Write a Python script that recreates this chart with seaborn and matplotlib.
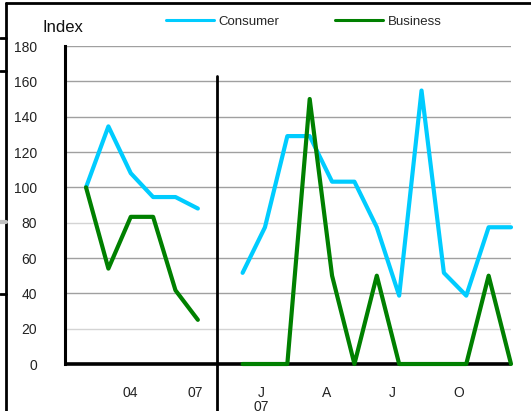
import numpy as np
import pandas as pd
import matplotlib
matplotlib.use("Agg")
import matplotlib.pyplot as plt
import matplotlib.transforms as mtransforms
from matplotlib.lines import Line2D
import seaborn as sns

# Annual index (2002 = 100) followed by monthly index Dec-06 .. Dec-07
years = ["02", "03", "04", "05", "06", "07"]
consumer_annual = [100, 134.5, 108, 94.5, 94.5, 88]
business_annual = [100, 54, 83.3, 83.3, 41.7, 25]

months = ["D", "J", "F", "M", "A", "M", "J", "J", "A", "S", "O", "N", "D"]
consumer_monthly = [51.6, 77.4, 129, 129, 103.2, 103.2, 77.4, 38.7, 154.8, 51.6, 38.7, 77.4, 77.4]
business_monthly = [0, 0, 0, 150, 50, 0, 50, 0, 0, 0, 0, 50, 0]

series_names = ["Consumer", "Business"]
colors = {"Consumer": "#00CCFF", "Business": "#008000"}

# Axis labels shown under the tick marks
tick_text = {2: "04", 5: "07", 8: "J\n07", 11: "A", 14: "J", 17: "O"}

# Positions: annual points, one empty slot for the divider, then monthly points
x_annual = np.arange(len(years))
x_monthly = np.arange(len(months)) + len(years) + 1

rows = []
for name, ann, mon in [("Consumer", consumer_annual, consumer_monthly),
                       ("Business", business_annual, business_monthly)]:
    for x, v in zip(x_annual, ann):
        rows.append({"x": x, "value": v, "series": name, "segment": "annual"})
    for x, v in zip(x_monthly, mon):
        rows.append({"x": x, "value": v, "series": name, "segment": "monthly"})
df = pd.DataFrame(rows)

sns.set_style("white")
plt.rcParams["font.family"] = ["Liberation Sans", "DejaVu Sans"]

fig = plt.figure(figsize=(5.31, 4.11), dpi=100)
ax = fig.add_axes([65 / 531, 1 - 364 / 411, (511 - 65) / 531, (364 - 46) / 411])

sns.lineplot(data=df, x="x", y="value", hue="series", units="segment",
             estimator=None, palette=colors, hue_order=series_names,
             linewidth=3.0, legend=False, ax=ax)
for ln in ax.lines:
    ln.set_solid_joinstyle("round")
    ln.set_solid_capstyle("round")
    ln.set_zorder(4)
    ln.set_clip_on(False)

n_slots = len(years) + 1 + len(months)
ax.set_xlim(-0.94, n_slots - 1)
ax.set_ylim(0, 180)

# tick marks sit slightly tighter than the data slots
tick_step = 0.979
ticks = np.arange(n_slots) * tick_step
ax.set_xticks(ticks)
ax.set_xticklabels([tick_text.get(i, "") for i in range(n_slots)], fontsize=10,
                   linespacing=1.0)
ax.set_yticks(np.arange(0, 181, 20))
ax.set_yticklabels([str(v) for v in range(0, 181, 20)], fontsize=10)
ax.tick_params(axis="x", direction="in", length=3.5, width=1.5, pad=16, colors="black",
               labelcolor="#222222")
ax.tick_params(axis="y", direction="in", length=3, width=1.5, pad=20, colors="black",
               labelcolor="#222222")

ax.set_xlabel("")
ax.set_ylabel("")

# horizontal gridlines
ax.yaxis.grid(True, color="#a0a0a0", linewidth=1.0)
ax.xaxis.grid(False)
for i, gl in enumerate(ax.get_ygridlines()):
    if i in (1, 4):
        gl.set_color("#d4d4d4")
    if i == 0:
        gl.set_visible(False)
ax.set_axisbelow(True)

for side in ("top", "right"):
    ax.spines[side].set_visible(False)
ax.spines["left"].set_linewidth(2.2)
ax.spines["bottom"].set_linewidth(2.6)
ax.spines["left"].set_color("black")
ax.spines["bottom"].set_color("black")
ax.spines["bottom"].set_capstyle("butt")

# divider between annual and monthly sections
trans = mtransforms.blended_transform_factory(ax.transData, ax.transAxes)
ax.plot([6 * tick_step, 6 * tick_step], [0.906, -0.16], transform=trans,
        color="black", linewidth=2.0, clip_on=False, zorder=5)

# axis title
fig.text(43 / 531, 1 - 28 / 411, "Index", fontsize=12, va="center", ha="left",
         color="#111111")

# legend across the top
handles = [Line2D([0], [0], color=colors[n], linewidth=2.2) for n in series_names]
fig.legend(handles, series_names, loc="center left",
           bbox_to_anchor=(166 / 531, 1 - 22 / 411), ncol=2, frameon=False,
           fontsize=9.5, handlelength=3.6, handletextpad=0.4, columnspacing=4.2,
           borderpad=0, borderaxespad=0)

# surrounding frame edges
fig.add_artist(Line2D([6 / 531, 1], [1 - 3 / 411] * 2, color="black", linewidth=2.0))
fig.add_artist(Line2D([6 / 531] * 2, [0, 1 - 3 / 411], color="black", linewidth=2.0))
for y in (38, 71, 294):
    fig.add_artist(Line2D([0, 6 / 531], [1 - y / 411] * 2, color="black", linewidth=2.0))
fig.add_artist(Line2D([0, 6 / 531], [1 - 222 / 411] * 2, color="#c0c0c0", linewidth=3.0))

fig.savefig("out.png", dpi=100)
